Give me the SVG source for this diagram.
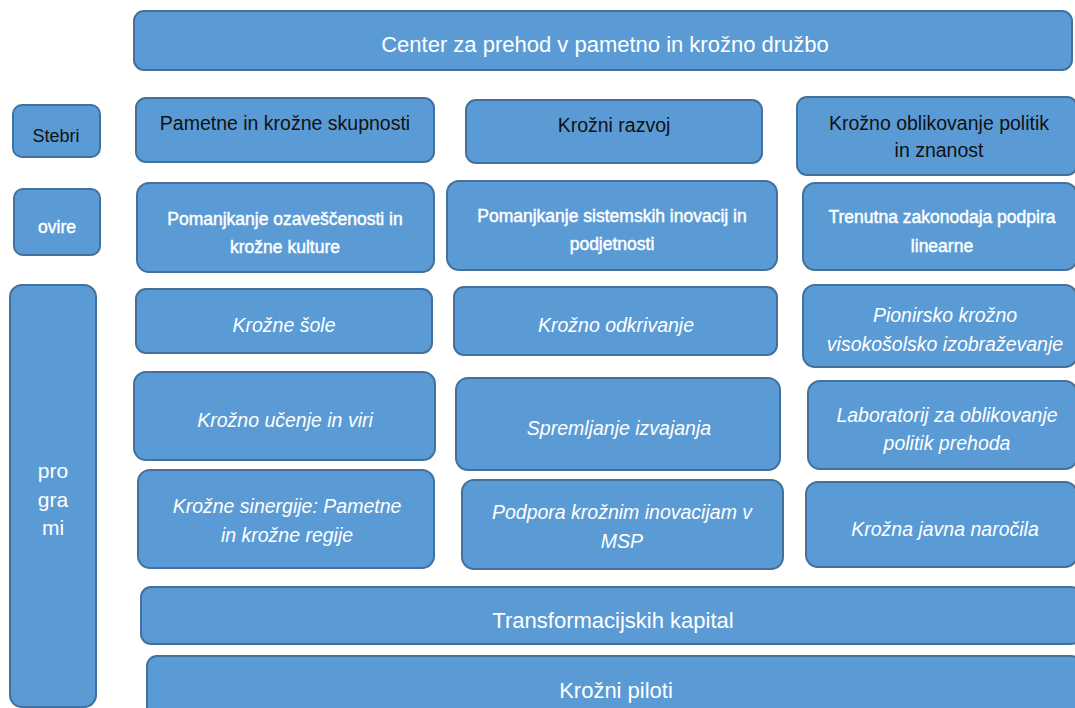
<svg xmlns="http://www.w3.org/2000/svg" width="1075" height="708" viewBox="0 0 1075 708">
<style>
.b{fill:#5b9bd5;stroke:#41719c;stroke-width:2}
text{font-family:"Liberation Sans",Arial,sans-serif;text-anchor:middle}
.w{fill:#ffffff}
.k{fill:#111111}
.i{font-style:italic;font-size:19.5px}
.o{font-size:17.5px;stroke:#ffffff;stroke-width:0.45}
</style>
<rect width="1075" height="708" fill="#ffffff"/>
<g id="center"><rect class="b" x="134" y="11" width="938" height="59" rx="10"/><text class="w" x="605" y="52" font-size="22">Center za prehod v pametno in krožno družbo</text></g>
<g id="stebri"><rect class="b" x="13" y="105" width="87" height="52" rx="9"/><text class="k" x="56" y="142" font-size="18">Stebri</text></g>
<g id="pametne"><rect class="b" x="136" y="98" width="298" height="64" rx="10"/><text class="k" x="285" y="130" font-size="19.5">Pametne in krožne skupnosti</text></g>
<g id="razvoj"><rect class="b" x="466" y="100" width="296" height="63" rx="10"/><text class="k" x="614" y="132" font-size="19.5">Krožni razvoj</text></g>
<g id="oblikovanje"><rect class="b" x="797" y="97" width="280" height="78" rx="10"/><text class="k" x="939" y="130" font-size="19.5">Krožno oblikovanje politik</text><text class="k" x="939" y="157" font-size="19.5">in znanost</text></g>
<g id="ovire"><rect class="b" x="14" y="189" width="86" height="66" rx="9"/><text class="w o" x="57" y="233">ovire</text></g>
<g id="ovira1"><rect class="b" x="137" y="183" width="297" height="89" rx="12"/><text class="w o" x="285" y="225">Pomanjkanje ozaveščenosti in</text><text class="w o" x="285" y="253">krožne kulture</text></g>
<g id="ovira2"><rect class="b" x="447" y="181" width="330" height="89" rx="12"/><text class="w o" x="612" y="222">Pomanjkanje sistemskih inovacij in</text><text class="w o" x="612" y="250">podjetnosti</text></g>
<g id="ovira3"><rect class="b" x="803" y="183" width="274" height="87" rx="12"/><text class="w o" x="942" y="223">Trenutna zakonodaja podpira</text><text class="w o" x="942" y="252">linearne</text></g>
<g id="programi"><rect class="b" x="10" y="285" width="86" height="422" rx="12"/><text class="w" x="53" y="478" font-size="21">pro</text><text class="w" x="53" y="507" font-size="21">gra</text><text class="w" x="53" y="535" font-size="21">mi</text></g>
<g id="sole"><rect class="b" x="136" y="289" width="296" height="64" rx="10"/><text class="w i" x="284" y="332">Krožne šole</text></g>
<g id="odkrivanje"><rect class="b" x="454" y="287" width="323" height="68" rx="10"/><text class="w i" x="616" y="332">Krožno odkrivanje</text></g>
<g id="pionirsko"><rect class="b" x="803" y="285" width="274" height="82" rx="12"/><text class="w i" x="945" y="322">Pionirsko krožno</text><text class="w i" x="945" y="351">visokošolsko izobraževanje</text></g>
<g id="ucenje"><rect class="b" x="134" y="372" width="301" height="88" rx="12"/><text class="w i" x="285" y="427">Krožno učenje in viri</text></g>
<g id="spremljanje"><rect class="b" x="456" y="378" width="324" height="92" rx="12"/><text class="w i" x="619" y="435">Spremljanje izvajanja</text></g>
<g id="laboratorij"><rect class="b" x="808" y="381" width="269" height="88" rx="12"/><text class="w i" x="947" y="422">Laboratorij za oblikovanje</text><text class="w i" x="947" y="450">politik prehoda</text></g>
<g id="sinergije"><rect class="b" x="138" y="470" width="296" height="98" rx="12"/><text class="w i" x="287" y="513">Krožne sinergije: Pametne</text><text class="w i" x="287" y="542">in krožne regije</text></g>
<g id="podpora"><rect class="b" x="462" y="480" width="321" height="89" rx="12"/><text class="w i" x="622" y="519">Podpora krožnim inovacijam v</text><text class="w i" x="622" y="548">MSP</text></g>
<g id="narocila"><rect class="b" x="806" y="482" width="271" height="85" rx="12"/><text class="w i" x="945" y="536">Krožna javna naročila</text></g>
<g id="kapital"><rect class="b" x="141" y="587" width="940" height="57" rx="10"/><text class="w" x="613" y="628" font-size="22">Transformacijskih kapital</text></g>
<g id="piloti"><rect class="b" x="147" y="656" width="934" height="70" rx="10"/><text class="w" x="616" y="698" font-size="22">Krožni piloti</text></g>
<g id="connectors"></g>
</svg>
